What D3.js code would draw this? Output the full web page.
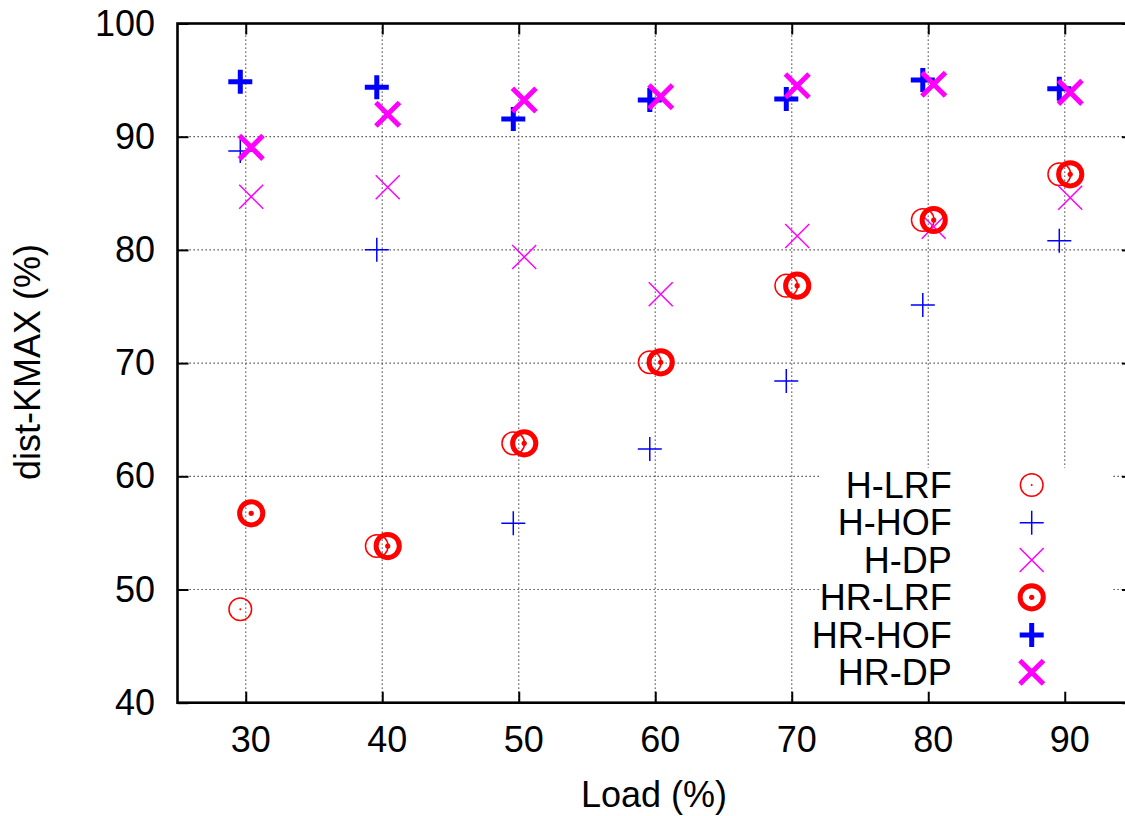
<!DOCTYPE html>
<html>
<head>
<meta charset="utf-8">
<script src="https://cdn.jsdelivr.net/npm/d3@7"></script>
<style>
  html, body { margin: 0; padding: 0; background: #fff; }
  svg { display: block; font-family: "Liberation Sans", Arial, Helvetica, sans-serif; }
</style>
</head>
<body>
<svg id="chart" width="1125" height="816"></svg>
<script>
// ---- data ----
const xTicks = [30, 40, 50, 60, 70, 80, 90];
const yTicks = [40, 50, 60, 70, 80, 90, 100];
const seriesNames = ["H-LRF", "H-HOF", "H-DP", "HR-LRF", "HR-HOF", "HR-DP"];

// x positions of points (loads slightly shifted left / right in the original)
const xLeft  = [29.6, 39.6, 49.6, 59.6, 69.6, 79.6, 89.6];
const xRight = [30.4, 40.4, 50.4, 60.4, 70.4, 80.4, 90.4];

const hLRF  = [48.25, 53.84, 62.91, 70.07, 76.84, 82.64, 86.68];
const hHOF  = [88.74, 80.02, 55.85, 62.41, 68.42, 75.13, 80.81];
const hDP   = [84.70, 85.53, 79.37, 76.08, 81.23, 82.05, 84.60];
const hrLRF = [56.73, 53.84, 62.91, 70.07, 76.84, 82.64, 86.68];
const hrHOF = [94.86, 94.36, 91.56, 93.24, 93.33, 95.00, 94.24];
const hrDP  = [89.06, 91.98, 93.24, 93.53, 94.50, 94.63, 93.92];

// ---- styles ----
const series = [
  { name: seriesNames[0], xs: xLeft,  ys: hLRF,  shape: "circle", color: "#ff0000", sw: 1.5, dot: 1.0 },
  { name: seriesNames[1], xs: xLeft,  ys: hHOF,  shape: "plus",   color: "#0000ff", sw: 1.5 },
  { name: seriesNames[2], xs: xRight, ys: hDP,   shape: "cross",  color: "#ff00ff", sw: 1.5 },
  { name: seriesNames[3], xs: xRight, ys: hrLRF, shape: "circle", color: "#ff0000", sw: 5, dot: 2.6 },
  { name: seriesNames[4], xs: xLeft,  ys: hrHOF, shape: "plus",   color: "#0000ff", sw: 5 },
  { name: seriesNames[5], xs: xRight, ys: hrDP,  shape: "cross",  color: "#ff00ff", sw: 5 }
];

const svg = d3.select("#chart");
const pL = 177.5, pT = 23.5, pR = 1133, pB = 702.7;
const x = d3.scaleLinear().domain([25, 95]).range([pL, pR]);
const y = d3.scaleLinear().domain([40, 100]).range([pB, pT]);
const FS = 36;

// gridlines
const grid = svg.append("g").attr("stroke", "#3a3a3a").attr("stroke-width", 1.2)
  .attr("stroke-dasharray", "1.3,2.7");
grid.selectAll(".gx").data(xTicks).enter().append("line")
  .attr("x1", d => x(d)).attr("x2", d => x(d)).attr("y1", pT).attr("y2", pB);
grid.selectAll(".gy").data(yTicks.filter(d => d > 40 && d < 100)).enter().append("line")
  .attr("x1", pL).attr("x2", pR).attr("y1", d => y(d)).attr("y2", d => y(d));

// legend background box (opaque, hides the grid)
const legX0 = 820, legX1 = 1111, legY0 = 468;
svg.append("rect").attr("x", legX0).attr("y", legY0)
  .attr("width", legX1 - legX0).attr("height", pB - legY0).attr("fill", "#fff");

// axes (ticks inward on all four sides)
const axB = svg.append("g").attr("transform", `translate(0,${pB})`)
  .call(d3.axisBottom(x).tickValues(xTicks).tickSize(-11).tickSizeOuter(0).tickPadding(23.5));
const axT = svg.append("g").attr("transform", `translate(0,${pT})`)
  .call(d3.axisTop(x).tickValues(xTicks).tickSize(-11).tickSizeOuter(0).tickFormat(""));
const axL = svg.append("g").attr("transform", `translate(${pL},0)`)
  .call(d3.axisLeft(y).tickValues(yTicks).tickSize(-11).tickSizeOuter(0).tickPadding(22.5));
const axR = svg.append("g").attr("transform", `translate(${pR},0)`)
  .call(d3.axisRight(y).tickValues(yTicks).tickSize(-11).tickSizeOuter(0).tickFormat(""));
[axB, axT, axL, axR].forEach(a => {
  a.select(".domain").remove();
  a.selectAll(".tick line").attr("stroke", "#000").attr("stroke-width", 2);
  a.selectAll("text").attr("font-size", FS).attr("fill", "#000")
    .attr("font-family", "'Liberation Sans', Arial, Helvetica, sans-serif");
});
axB.selectAll(".tick text").attr("dx", 4.5);

// frame
svg.append("rect").attr("x", pL).attr("y", pT)
  .attr("width", pR - pL).attr("height", pB - pT)
  .attr("fill", "none").attr("stroke", "#000").attr("stroke-width", 2.6);

// axis titles
svg.append("text").attr("x", 654).attr("y", 806.5).attr("text-anchor", "middle")
  .attr("font-size", FS).text("Load (%)");
svg.append("text").attr("transform", "translate(39.5,362) rotate(-90)")
  .attr("text-anchor", "middle").attr("font-size", FS).text("dist-KMAX (%)");

// marker drawing
function drawMarker(g, s, cx, cy) {
  const h = 12;
  if (s.shape === "circle") {
    g.append("circle").attr("cx", cx).attr("cy", cy).attr("r", s.sw > 2 ? 11.6 : 11.3)
      .attr("fill", "none").attr("stroke", s.color).attr("stroke-width", s.sw);
    g.append("circle").attr("cx", cx).attr("cy", cy).attr("r", s.dot).attr("fill", s.color);
  } else if (s.shape === "plus") {
    g.append("path").attr("d", `M${cx - h},${cy}H${cx + h}M${cx},${cy - h}V${cy + h}`)
      .attr("stroke", s.color).attr("stroke-width", s.sw).attr("fill", "none");
  } else {
    const k = s.sw > 2 ? 11.8 : 12;
    g.append("path").attr("d", `M${cx - k},${cy - k}L${cx + k},${cy + k}M${cx - k},${cy + k}L${cx + k},${cy - k}`)
      .attr("stroke", s.color).attr("stroke-width", s.sw).attr("fill", "none");
  }
}

// points
const pts = svg.append("g");
series.forEach(s => {
  const g = pts.append("g").attr("class", "series");
  s.ys.forEach((v, i) => drawMarker(g, s, x(s.xs[i]), y(v)));
});

// legend
const legRows = [485, 522.7, 560, 597.3, 635, 672.3];
const leg = svg.append("g");
series.forEach((s, i) => {
  leg.append("text").attr("x", 951.7).attr("y", legRows[i]).attr("dy", "0.35em")
    .attr("text-anchor", "end").attr("font-size", FS).text(s.name);
  drawMarker(leg.append("g"), s, 1031.7, legRows[i]);
});
</script>
</body>
</html>
